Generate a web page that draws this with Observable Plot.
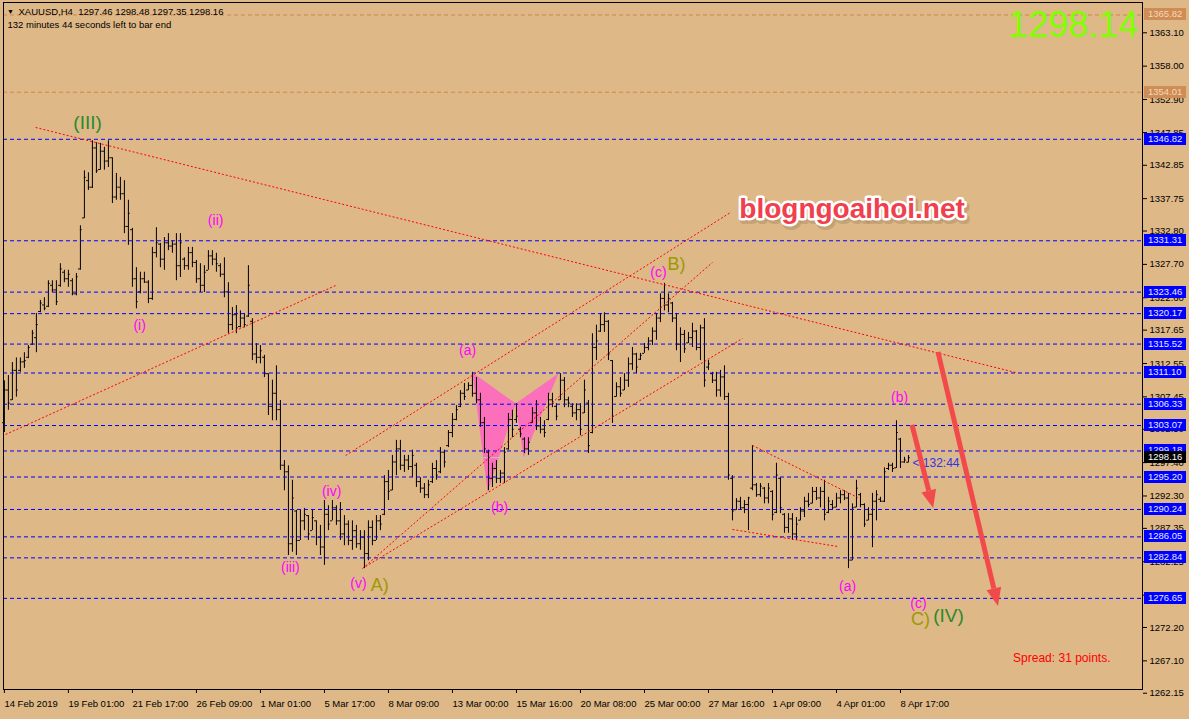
<!DOCTYPE html>
<html><head><meta charset="utf-8">
<script src="https://cdn.jsdelivr.net/npm/d3@7"></script>
<script src="https://cdn.jsdelivr.net/npm/@observablehq/plot@0.6"></script>
<style>
html,body{margin:0;padding:0;background:#deb887;}
#chart{width:1189px;height:719px;overflow:hidden;}
</style></head><body><div id="chart"></div>
<script>
// ---- OHLC (H4 bars, XAUUSD) ----
const highs = [1309.9,1310.7,1312.7,1313.4,1313.4,1314.2,1315.3,1317.6,1320.2,1322.2,1322.6,1325.2,1325.2,1325.2,1327.8,1326.8,1326.8,1325.5,1326.3,1333.6,
1342.0,1341.7,1346.6,1346.3,1346.2,1345.6,1346.6,1344.0,1341.6,1341.0,1340.5,1337.5,1333.2,1327.2,1326.5,1326.5,1325.2,1330.3,1333.3,1330.9,
1331.8,1332.4,1331.3,1332.4,1332.4,1328.7,1330.3,1330.3,1328.3,1327.8,1327.5,1329.8,1329.8,1329.4,1327.8,1328.7,1324.9,1321.1,1321.4,1320.6,
1320.2,1327.5,1319.4,1315.6,1315.3,1313.8,1311.0,1310.0,1312.2,1306.9,1297.7,1296.9,1294.7,1290.1,1290.1,1290.4,1289.3,1290.1,1288.5,1287.8,
1291.6,1290.8,1291.6,1290.8,1291.3,1289.3,1288.5,1288.5,1287.8,1287.0,1287.0,1288.5,1288.5,1289.3,1289.3,1295.4,1296.2,1298.5,1300.8,1300.8,
1298.5,1298.5,1299.3,1297.3,1295.1,1294.2,1294.7,1297.3,1297.7,1299.7,1299.3,1302.3,1304.9,1306.1,1308.4,1309.5,1309.6,1311.2,1310.4,1308.0,
1304.3,1299.3,1297.3,1297.7,1296.2,1299.7,1304.9,1305.4,1306.4,1302.8,1301.2,1301.2,1305.8,1306.9,1304.3,1303.8,1308.0,1308.0,1306.4,1311.0,
1310.4,1307.4,1306.4,1306.4,1306.4,1310.0,1306.9,1317.1,1318.4,1320.2,1320.3,1319.1,1313.0,1309.6,1310.4,1311.0,1313.4,1315.0,1314.1,1314.1,
1315.6,1316.5,1318.0,1320.2,1323.2,1324.8,1323.2,1321.9,1320.2,1318.0,1317.6,1317.3,1318.7,1317.6,1318.4,1319.4,1313.0,1311.2,1311.2,1311.5,
1312.2,1308.0,1295.4,1291.9,1292.1,1291.6,1292.1,1300.0,1294.2,1294.2,1293.6,1294.2,1293.1,1297.3,1295.1,1289.6,1289.6,1289.6,1289.0,1290.5,
1292.1,1292.7,1293.6,1293.6,1293.6,1294.7,1292.1,1291.6,1292.7,1293.1,1293.1,1292.7,1291.1,1294.7,1292.7,1291.1,1290.5,1292.7,1293.1,1292.1,
1296.6,1297.3,1297.3,1303.8,1301.1,1298.2,1298.48];
const lows = [1302.0,1305.4,1306.9,1307.4,1311.2,1311.8,1313.3,1315.3,1314.2,1320.3,1320.6,1321.1,1323.4,1321.4,1324.2,1324.9,1324.2,1322.9,1322.9,1326.8,
1334.7,1339.0,1339.3,1341.6,1342.1,1342.1,1342.5,1337.0,1337.5,1337.5,1332.4,1330.6,1324.2,1320.9,1323.2,1324.8,1321.7,1322.2,1328.7,1327.2,
1326.8,1329.8,1329.4,1325.2,1325.7,1326.8,1326.8,1327.2,1324.8,1323.4,1323.4,1326.8,1327.5,1326.5,1325.7,1322.6,1317.1,1317.6,1317.1,1318.0,
1318.0,1319.6,1313.0,1312.5,1312.5,1310.4,1304.6,1303.8,1303.8,1296.2,1293.1,1283.2,1283.7,1283.2,1285.5,1287.0,1285.5,1287.0,1284.7,1283.2,
1281.7,1287.0,1288.5,1287.8,1285.5,1284.7,1284.7,1284.0,1284.3,1284.0,1281.2,1282.4,1284.7,1285.5,1287.0,1289.3,1291.6,1293.1,1295.4,1296.2,
1295.9,1296.2,1295.1,1293.6,1292.7,1291.9,1291.9,1294.2,1294.7,1295.7,1296.6,1299.7,1301.2,1303.8,1305.8,1306.9,1308.4,1307.4,1306.4,1302.8,
1298.8,1293.1,1293.6,1294.2,1294.2,1294.2,1299.3,1301.2,1303.4,1301.2,1298.8,1298.5,1303.4,1302.3,1301.8,1301.2,1303.8,1305.8,1303.8,1306.9,
1305.8,1305.8,1304.3,1303.8,1301.5,1304.9,1298.8,1301.8,1313.0,1317.3,1317.3,1313.0,1303.4,1307.4,1307.4,1308.4,1308.9,1311.5,1311.0,1313.0,
1314.1,1314.5,1315.3,1316.1,1318.8,1320.6,1320.3,1318.8,1314.5,1312.7,1314.1,1315.6,1315.0,1314.5,1313.0,1308.9,1311.5,1309.5,1307.4,1307.4,
1306.9,1294.7,1288.5,1290.1,1290.1,1289.6,1287.0,1293.1,1292.1,1292.1,1291.1,1291.1,1288.5,1289.6,1289.6,1286.6,1286.6,1285.5,1285.5,1288.5,
1289.0,1290.5,1291.1,1291.6,1290.5,1288.5,1289.6,1290.1,1290.5,1291.1,1291.6,1281.2,1282.4,1290.5,1290.5,1287.5,1288.5,1284.4,1288.5,1291.3,
1291.3,1296.2,1295.9,1296.5,1296.5,1297.3,1297.35];
const opens = [1303.5,1308.5,1307.0,1311.5,1311.5,1312.8,1313.5,1315.5,1316.5,1320.5,1321.5,1321.3,1324.5,1323.8,1324.5,1326.5,1325.5,1325.2,1323.2,1327.0,
1334.8,1340.5,1339.5,1345.5,1342.2,1345.0,1343.5,1344.0,1338.0,1339.5,1338.5,1333.5,1333.0,1325.5,1323.5,1325.5,1325.0,1322.5,1329.5,1330.8,
1328.5,1331.0,1330.5,1330.8,1327.5,1328.5,1327.5,1329.5,1328.0,1325.5,1324.5,1326.8,1329.0,1328.5,1327.5,1326.2,1323.5,1318.5,1320.0,1318.2,
1319.5,1319.8,1319.0,1314.0,1313.5,1313.5,1311.0,1306.0,1308.0,1305.5,1297.0,1296.0,1285.0,1290.0,1285.5,1288.5,1289.3,1287.0,1288.5,1286.0,
1284.5,1289.5,1288.5,1290.5,1288.5,1286.5,1288.0,1285.5,1287.0,1285.0,1286.0,1283.5,1287.5,1285.5,1288.5,1289.5,1294.5,1293.2,1297.5,1299.5,
1297.0,1297.8,1296.8,1297.0,1294.5,1293.5,1292.5,1294.5,1296.5,1296.0,1299.0,1300.0,1302.0,1304.0,1306.0,1308.0,1308.5,1309.2,1308.0,1307.0,
1303.5,1299.0,1295.0,1296.5,1295.0,1295.8,1299.5,1304.0,1304.0,1302.5,1301.0,1299.5,1303.5,1305.0,1303.0,1302.5,1304.0,1307.0,1306.0,1307.0,
1310.0,1307.0,1306.0,1305.0,1305.5,1305.0,1306.5,1302.0,1315.0,1317.5,1318.5,1319.0,1313.0,1307.5,1309.0,1308.5,1310.0,1312.5,1314.0,1313.2,
1314.1,1315.0,1316.0,1317.5,1319.5,1322.5,1321.5,1321.8,1319.5,1315.5,1317.0,1315.7,1316.5,1317.5,1315.0,1318.0,1312.0,1311.0,1310.0,1308.5,
1310.5,1307.5,1295.0,1290.2,1291.5,1290.5,1291.0,1293.5,1294.0,1292.5,1293.5,1292.0,1293.0,1289.8,1295.0,1289.5,1287.5,1288.8,1286.5,1288.6,
1290.0,1291.5,1291.2,1293.0,1292.0,1293.0,1289.8,1291.0,1290.6,1292.0,1292.5,1292.0,1282.5,1290.6,1292.5,1291.0,1288.6,1289.5,1291.5,1291.8,
1291.5,1296.5,1297.0,1296.6,1301.0,1297.5,1297.46];
const closes = [1308.5,1306.5,1311.5,1308.5,1312.8,1313.0,1315.0,1317.2,1318.5,1321.8,1321.0,1324.8,1323.8,1322.0,1327.0,1325.5,1326.2,1323.2,1325.8,1333.0,
1341.0,1339.5,1345.5,1342.0,1345.0,1343.5,1344.0,1338.0,1339.5,1338.5,1333.5,1335.5,1325.5,1322.0,1325.5,1325.0,1322.5,1329.5,1331.0,1328.5,
1331.0,1330.5,1330.8,1327.5,1331.0,1327.5,1329.5,1328.0,1325.5,1324.5,1326.5,1329.0,1328.5,1327.8,1326.2,1323.5,1318.5,1320.0,1318.0,1319.5,
1318.5,1324.5,1314.0,1313.5,1314.5,1311.0,1306.0,1308.0,1305.5,1297.0,1296.0,1285.0,1292.0,1285.5,1288.5,1289.5,1286.5,1289.0,1286.0,1284.5,
1289.5,1288.0,1290.5,1288.5,1286.5,1288.0,1285.5,1287.0,1285.0,1286.0,1283.5,1287.5,1285.5,1288.5,1288.0,1294.5,1293.0,1297.5,1299.5,1297.0,
1297.8,1296.8,1298.5,1294.5,1293.5,1292.5,1294.0,1296.5,1295.5,1299.0,1297.5,1302.0,1304.0,1305.5,1308.0,1307.5,1309.2,1308.0,1307.0,1303.5,
1299.5,1295.0,1296.5,1295.0,1295.8,1299.0,1304.0,1302.5,1304.5,1301.8,1299.5,1300.5,1305.0,1303.0,1302.5,1302.0,1307.0,1306.5,1304.5,1310.0,
1307.0,1306.5,1305.0,1305.5,1302.5,1308.5,1300.0,1315.0,1316.0,1318.5,1319.0,1314.0,1304.5,1309.0,1308.0,1310.0,1312.5,1314.0,1312.0,1313.8,
1315.0,1316.0,1317.5,1319.5,1322.5,1321.5,1322.5,1319.5,1315.5,1317.0,1314.8,1316.5,1317.5,1315.0,1318.0,1310.0,1312.5,1310.0,1308.5,1310.5,
1307.5,1295.5,1290.0,1291.5,1290.5,1291.0,1292.0,1294.0,1292.5,1293.8,1292.0,1293.5,1289.5,1295.5,1290.5,1287.5,1288.8,1286.5,1288.0,1290.0,
1291.5,1291.0,1293.0,1292.0,1293.0,1289.5,1291.5,1290.5,1292.0,1292.5,1292.0,1282.5,1290.5,1293.5,1291.0,1288.0,1289.5,1291.5,1292.5,1291.5,
1296.0,1297.0,1296.5,1302.0,1297.5,1297.8,1298.16];

// ---- axes ----
const yTicks = [1363.10,1358.00,1352.90,1347.85,1342.85,1337.75,1332.80,1327.70,1322.60,1317.65,1312.55,1307.45,1302.50,1297.40,1292.30,1287.35,1282.25,1277.15,1272.20,1267.10,1262.15];
const dateTickBars = [0,16,32,48,64,80,96,112,128,144,160,176,192,208,224];
const dateLabels = ["14 Feb 2019","19 Feb 01:00","21 Feb 17:00","26 Feb 09:00","1 Mar 01:00","5 Mar 17:00","8 Mar 09:00","13 Mar 00:00","15 Mar 16:00","20 Mar 08:00","25 Mar 00:00","27 Mar 16:00","1 Apr 09:00","4 Apr 01:00","8 Apr 17:00"];

// ---- horizontal levels ----
const blueLevels = [1346.82,1331.31,1323.46,1320.17,1315.52,1311.10,1306.33,1303.07,1299.18,1295.20,1290.24,1286.05,1282.84,1276.65];
const orangeLevels = [1365.82,1354.01];
const bidPrice = 1298.16;
const bigPrice = "1298.14";

// ---- trend lines (bar index, price) ----
const tlI1 = [7.8, 0.3, 85.3, 89.5, 90.3, 187.0, 182.0];
const tlP1 = [1348.63, 1301.70, 1298.49, 1281.20, 1281.52, 1300.02, 1287.18];
const tlI2 = [252.8, 82.8, 181.5, 177.0, 184.5, 213.3, 208.3];
const tlP2 = [1311.17, 1324.47, 1335.63, 1327.99, 1316.37, 1292.07, 1284.58];

// ---- butterfly pattern ----
const pinkI = [117.0, 127.8, 120.8, 127.8, 138.5, 129.8];
const pinkP = [1311.17, 1306.44, 1292.83, 1306.44, 1311.02, 1298.18];
const pinkId = [0,0,0,1,1,1];

// ---- arrows ----
const arrI1 = [227.0, 233.5], arrP1 = [1303.08, 1314.23];
const arrI2 = [232.3, 248.5], arrP2 = [1290.39, 1275.41];

// ---- wave labels ----
const magTexts = ["(ii)","(i)","(iii)","(iv)","(v)","(a)","(b)","(c)","(a)","(b)","(c)"];
const magI = [52.8,33.8,71.5,81.8,88.5,115.8,123.8,163.5,210.8,223.8,228.5];
const magP = [1334.4,1318.36,1281.37,1292.99,1278.92,1314.54,1290.54,1326.46,1278.46,1307.36,1275.86];
const oliveTexts = ["A)","B)","C)"];
const oliveI = [93.8,168.0,229.0];
const oliveP = [1278.61,1327.68,1273.42];
const greenTexts = ["(III)","(IV)"];
const greenI = [20.8,236.0];
const greenP = [1349.4,1274.03];

const headerLine1 = "XAUUSD,H4  1297.46 1298.48 1297.35 1298.16";
const headerLine2 = "132 minutes 44 seconds left to bar end";
const timerText = "< 132:44";
const timerPos = {i: 227.0, p: 1297.27};
const watermark = "blogngoaihoi.net";
const wmPos = {i: 211.9, p: 1336.09};
const spreadText = "Spread: 31 points.";

const bars = highs.map((h, i) => ({i, o: opens[i], h, l: lows[i], c: closes[i]}));
const FONT = "'Liberation Sans', Arial, sans-serif";

const boxes = [
  ...orangeLevels.map(p => ({p, bg: "#cf8c55", fg: "#f3d9b8"})),
  ...blueLevels.map(p => ({p, bg: "#0000ff", fg: "#e8e8ff"})),
  {p: bidPrice, bg: "#000000", fg: "#ffffff"}
];

const boxMark = (index, scales, values, dims) => {
  const g = d3.create("svg:g");
  const x0 = dims.width - dims.marginRight;
  for (const b of boxes) {
    const y = Math.round(scales.y(b.p));
    g.append("rect").attr("x", x0 + 2).attr("y", y - 6).attr("width", 42).attr("height", 12).attr("fill", b.bg);
    g.append("text").attr("x", x0 + 6).attr("y", y).attr("dy", "0.36em").attr("text-anchor", "start")
      .attr("fill", b.fg).attr("font-size", "9.5px").attr("font-family", FONT).text(b.p.toFixed(2));
  }
  return g.node();
};

const arrowMark = (index, scales, values, dims) => {
  const g = d3.create("svg:g");
  const col = "#f24a4a";
  for (let k = 0; k < arrI1.length; k++) {
    const x1 = scales.x(arrI1[k]), y1 = scales.y(arrP1[k]);
    const x2 = scales.x(arrI2[k]), y2 = scales.y(arrP2[k]);
    const a = Math.atan2(y2 - y1, x2 - x1);
    const L = 18, W = 7.5;
    const bx = x2 - L * Math.cos(a), by = y2 - L * Math.sin(a);
    g.append("line").attr("x1", x1).attr("y1", y1).attr("x2", bx).attr("y2", by)
      .attr("stroke", col).attr("stroke-width", 5);
    const px = -Math.sin(a), py = Math.cos(a);
    g.append("polygon").attr("points", [[x2, y2], [bx + px * W, by + py * W], [bx - px * W, by - py * W]].map(d => d.join(",")).join(" "))
      .attr("fill", col);
  }
  return g.node();
};

const pinkPts = pinkI.map((i, k) => ({i, p: pinkP[k], id: pinkId[k]}));
const tl = d3.range(tlI1.length);

const chart = Plot.plot({
  width: 1189, height: 719,
  marginLeft: 3, marginRight: 47, marginTop: 2, marginBottom: 30,
  x: {type: "linear", domain: [-0.225, 284.5]},
  y: {type: "linear", domain: [1262.72, 1367.73]},
  style: {background: "#deb887", fontFamily: FONT, fontSize: "9.5px", color: "black", overflow: "visible"},
  marks: [
    Plot.line(pinkPts, {x: "i", y: "p", z: "id", fill: "#fb6fbb", stroke: "none", curve: "linear-closed"}),
    Plot.ruleY([bidPrice], {stroke: "#c0c0c0", strokeWidth: 1}),
    Plot.ruleX(bars, {x: "i", y1: "l", y2: "h", stroke: "black", strokeWidth: 1}),
    Plot.ruleY(bars, {y: "o", x1: d => d.i - 0.45, x2: "i", stroke: "black", strokeWidth: 1}),
    Plot.ruleY(bars, {y: "c", x1: "i", x2: d => d.i + 0.45, stroke: "black", strokeWidth: 1}),
    Plot.ruleY(orangeLevels, {stroke: "#d2874b", strokeDasharray: "4,3", strokeWidth: 1}),
    Plot.ruleY(blueLevels, {stroke: "#0000ff", strokeDasharray: "4,3", strokeWidth: 1}),
    Plot.link(tl, {x1: k => tlI1[k], y1: k => tlP1[k], x2: k => tlI2[k], y2: k => tlP2[k], stroke: "#ff0000", strokeDasharray: "2,2", strokeWidth: 1}),
    Plot.text(magTexts, {x: (d, k) => magI[k], y: (d, k) => magP[k], text: d => d, fill: "#ff00ff", fontSize: 14, textAnchor: "middle", lineAnchor: "middle"}),
    Plot.text(oliveTexts, {x: (d, k) => oliveI[k], y: (d, k) => oliveP[k], text: d => d, fill: "#9a9a00", fontSize: 18, textAnchor: "middle", lineAnchor: "middle"}),
    Plot.text(greenTexts, {x: (d, k) => greenI[k], y: (d, k) => greenP[k], text: d => d, fill: "#2a8a2a", fontSize: 19, textAnchor: "middle", lineAnchor: "middle"}),
    Plot.text([timerText], {x: timerPos.i, y: timerPos.p, text: d => d, fill: "#3232e6", fontSize: 12, textAnchor: "start", lineAnchor: "middle"}),
    arrowMark,
    Plot.text([watermark], {x: wmPos.i, y: wmPos.p, text: d => d, dx: 2, dy: 3, fill: "#9a7a55", stroke: "#9a7a55", strokeWidth: 6, strokeOpacity: 0.35, fillOpacity: 0.35, fontSize: 28, fontWeight: "bold", textAnchor: "middle", lineAnchor: "middle"}),
    Plot.text([watermark], {x: wmPos.i, y: wmPos.p, text: d => d, fill: "#f0404e", stroke: "white", strokeWidth: 5, fontSize: 28, fontWeight: "bold", textAnchor: "middle", lineAnchor: "middle"}),
    Plot.text([bigPrice], {frameAnchor: "top-right", dx: -4, dy: 23, text: d => d, fill: "#80ff00", fontSize: 36, textAnchor: "end", lineAnchor: "middle"}),
    Plot.text([spreadText], {frameAnchor: "bottom-right", dx: -32, dy: -31, text: d => d, fill: "#ff0000", fontSize: 12, textAnchor: "end", lineAnchor: "middle"}),
    Plot.text(["\u25BC"], {frameAnchor: "top-left", dx: 7, dy: 9, text: d => d, fill: "black", fontSize: 7, textAnchor: "middle", lineAnchor: "middle"}),
    Plot.text([headerLine1], {frameAnchor: "top-left", dx: 15, dy: 9, text: d => d, fill: "black", fontSize: 9.5, textAnchor: "start", lineAnchor: "middle"}),
    Plot.text([headerLine2], {frameAnchor: "top-left", dx: 4, dy: 22, text: d => d, fill: "black", fontSize: 9.5, textAnchor: "start", lineAnchor: "middle"}),
    Plot.frame({stroke: "black"}),
    Plot.axisY({anchor: "right", ticks: yTicks, tickFormat: d => d.toFixed(2), tickSize: 4, tickPadding: 3, fontSize: 9.5, fill: "black", stroke: "black", label: null}),
    Plot.axisX({anchor: "bottom", ticks: dateTickBars, tickFormat: d => dateLabels[dateTickBars.indexOf(d)], tickSize: 4, tickPadding: 7, textAnchor: "start", dx: 0, fontSize: 9.5, fill: "black", stroke: "black", label: null}),
    boxMark
  ]
});
document.getElementById("chart").append(chart);
</script>
</body></html>
